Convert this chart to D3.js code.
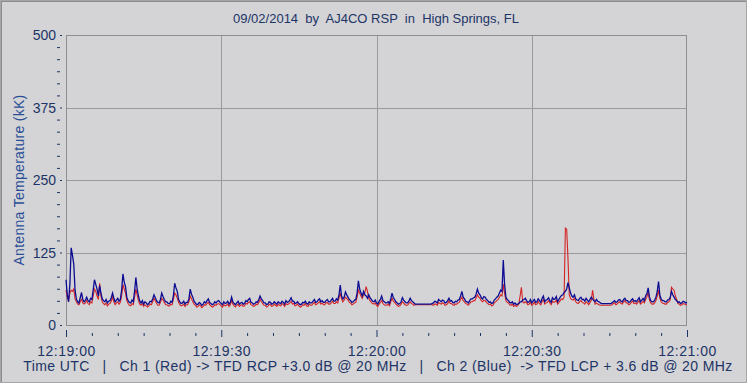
<!DOCTYPE html>
<html><head><meta charset="utf-8">
<script src="https://cdn.jsdelivr.net/npm/d3@7"></script>
<style>
html,body{margin:0;padding:0;background:#d4d3d6;}
svg{display:block;}
text{font-family:"Liberation Sans",Arial,sans-serif;}
</style></head>
<body>
<svg id="c" width="747" height="383"></svg>
<script>
// ---- data ----
const titleText = "09/02/2014  by  AJ4CO RSP  in  High Springs, FL";
const xAxisTitle = "Time UTC   |   Ch 1 (Red) -> TFD RCP +3.0 dB @ 20 MHz   |   Ch 2 (Blue)  -> TFD LCP + 3.6 dB @ 20 MHz";
const yAxisTitle = "Antenna Temperature (kK)";
const yTicks = [0, 125, 250, 375, 500];
const xTickLabels = ["12:19:00", "12:19:30", "12:20:00", "12:20:30", "12:21:00"];
const startSec = 0, stepSec = 0.25;   // seconds after 12:19:00
// Ch 2 (Blue) values, every 0.25 s (one row = 5 s)
const blue = [
78,52,40,70,133,120,105,60,45,40,38,47,56,44,40,43,48,42,40,46,
44,60,78,70,62,50,68,55,45,42,40,44,38,41,42,47,55,46,40,43,
46,41,44,60,88,74,66,48,42,39,38,43,40,58,82,62,50,41,38,42,
36,40,38,35,37,41,40,45,52,47,42,39,38,44,55,49,44,40,40,37,
37,41,39,50,72,64,58,44,40,37,38,41,36,39,39,45,62,53,48,41,
38,35,36,39,37,34,36,40,38,42,45,39,37,35,36,40,38,41,42,39,
37,35,40,37,38,41,36,39,48,40,37,35,38,41,36,38,39,36,37,42,
40,44,46,39,38,36,37,40,39,44,50,45,42,38,38,35,36,40,39,36,
37,40,38,36,40,38,37,41,39,36,42,39,40,43,47,41,41,37,38,40,
37,35,36,39,38,41,37,36,40,38,38,41,44,39,40,43,45,40,42,39,
39,42,44,40,40,43,46,41,41,45,43,52,69,50,45,48,57,52,48,44,
42,39,40,43,44,55,76,62,55,50,58,52,50,46,52,47,44,41,40,43,
38,36,41,44,50,42,40,38,38,40,37,45,55,47,44,40,38,36,37,40,
47,43,40,38,38,41,46,42,40,38,36,36,36,36,36,36,36,36,36,36,
36,36,36,37,38,41,40,38,44,42,40,43,42,38,39,42,46,41,42,39,
38,41,40,43,44,50,58,48,45,41,40,38,42,45,45,47,48,53,62,55,
52,47,45,49,48,44,42,39,40,37,38,43,45,48,50,55,60,58,112,70,
48,44,42,39,38,40,36,38,35,36,37,40,40,43,44,46,42,39,40,44,
38,41,44,39,40,45,42,39,46,50,40,43,44,47,42,39,47,44,45,49,
40,44,48,51,52,56,58,62,73,64,55,50,48,52,45,43,42,46,48,44,
44,41,46,43,40,44,48,45,42,40,44,41,40,38,37,37,37,37,37,37,
37,37,38,40,42,39,40,43,44,41,40,44,46,42,42,39,40,43,45,41,
42,40,44,47,40,43,46,42,50,54,64,48,42,40,40,43,48,58,75,52,
45,42,42,40,40,43,44,47,58,52,48,44,42,39,40,37,38,41,40,38,
39
];
// Ch 1 (Red) values, every 0.25 s (one row = 5 s)
const red = [
60,48,42,55,60,58,62,45,40,36,35,40,44,38,36,38,42,37,35,40,
38,50,62,58,50,44,72,50,40,37,35,38,33,36,37,41,48,40,35,38,
40,36,39,50,70,62,55,42,37,34,33,37,35,48,62,52,42,36,34,37,
32,35,33,31,33,36,35,40,46,42,37,34,34,39,46,43,39,35,35,33,
33,36,35,44,55,52,46,39,35,33,34,36,32,35,35,40,50,45,40,36,
34,31,32,35,33,30,32,35,34,37,39,35,33,31,32,35,34,36,37,35,
33,31,35,33,34,36,32,35,42,36,33,31,34,36,32,34,35,32,33,37,
36,39,40,35,34,32,33,36,35,39,44,40,37,34,34,31,32,36,35,32,
33,36,34,32,36,34,33,37,35,32,37,35,36,38,41,36,37,33,34,36,
33,31,32,35,34,37,33,32,36,34,34,37,39,35,36,38,40,36,38,35,
35,38,39,36,36,38,41,37,37,40,38,46,55,45,40,43,48,46,43,39,
38,35,36,38,39,48,60,55,50,46,52,56,66,58,46,42,39,37,36,38,
34,32,36,39,42,37,35,34,34,36,33,40,46,41,39,36,34,32,33,36,
40,38,35,34,34,37,40,37,36,34,35,35,35,35,35,35,35,35,35,35,
35,35,35,35,34,36,36,34,39,37,36,38,37,34,35,37,41,37,37,35,
34,36,36,38,39,44,48,42,40,37,36,34,37,40,40,42,42,47,52,48,
46,42,40,43,42,39,37,35,36,33,34,38,40,42,44,48,52,50,70,55,
42,39,38,35,34,36,32,34,32,33,36,50,65,40,38,40,38,35,36,39,
34,36,39,35,36,40,37,35,41,44,36,38,39,42,38,35,41,39,40,43,
36,39,42,45,44,48,167,165,115,52,46,44,43,46,40,38,37,40,42,39,
38,36,40,38,35,39,42,60,45,36,38,36,35,34,34,34,34,34,34,34,
34,34,35,37,38,35,36,39,40,37,36,40,42,38,38,35,36,39,41,37,
38,36,39,42,36,38,41,38,44,48,56,43,38,36,36,38,42,50,60,46,
40,38,37,36,36,39,40,43,65,62,60,50,44,37,36,34,35,37,36,35,
35
];

// ---- layout ----
const W = 747, H = 383;
const M = {left: 66, right: 687, top: 35, bottom: 325};
const svg = d3.select("#c");
const navy = "#1c3566";

// outer frame
svg.append("rect").attr("x",0.5).attr("y",0.5).attr("width",W-1).attr("height",H-1)
  .attr("fill","#d4d3d6").attr("stroke","#a6a6a8");
svg.append("line").attr("x1",1.5).attr("x2",1.5).attr("y1",1).attr("y2",H-1).attr("stroke","#8c8c90");
svg.append("line").attr("x1",1).attr("x2",W-1).attr("y1",1.5).attr("y2",1.5).attr("stroke","#8c8c90");

const t0 = new Date(Date.UTC(2014, 8, 2, 12, 19, 0));
const tEnd = new Date(Date.UTC(2014, 8, 2, 12, 21, 0));
const x = d3.scaleUtc().domain([t0, tEnd]).range([M.left, M.right]);
const y = d3.scaleLinear().domain([0, 500]).range([M.bottom, M.top]);
const timeOf = i => new Date(t0.getTime() + (startSec + i*stepSec)*1000);

// grid
const majorX = d3.range(xTickLabels.length).map(i => new Date(t0.getTime() + i*30000));
const g = svg.append("g");
g.selectAll("line.gx").data(majorX.slice(1,-1)).join("line")
  .attr("x1",d=>Math.round(x(d))+0.5).attr("x2",d=>Math.round(x(d))+0.5)
  .attr("y1",M.top).attr("y2",M.bottom).attr("stroke","#9a9a9e");
g.selectAll("line.gy").data(yTicks.slice(1,-1)).join("line")
  .attr("x1",M.left).attr("x2",M.right)
  .attr("y1",d=>Math.round(y(d))+0.5).attr("y2",d=>Math.round(y(d))+0.5).attr("stroke","#9a9a9e");
svg.append("rect").attr("x",M.left+0.5).attr("y",M.top+0.5)
  .attr("width",M.right-M.left-1).attr("height",M.bottom-M.top)
  .attr("fill","none").attr("stroke","#8e8e92");

// series
const line = d3.line().x((d,i)=>x(timeOf(i))).y(d=>y(d));
svg.append("path").datum(red).attr("d",line).attr("fill","none")
  .attr("stroke","#d42424").attr("stroke-width",1.1);
svg.append("path").datum(blue).attr("d",line).attr("fill","none")
  .attr("stroke","#0c0c92").attr("stroke-width",1.3);

// y axis ticks & labels
const yAxis = d3.axisLeft(y).tickValues(yTicks).tickSize(2).tickPadding(4).tickFormat(d3.format("d"));
const ya = svg.append("g").attr("transform",`translate(${M.left-4},0)`).call(yAxis);
ya.select(".domain").remove();
ya.selectAll("text").attr("fill",navy).attr("font-size","14px").attr("dy","0.35em");
ya.selectAll("line").attr("stroke",navy);
const minorY = d3.range(0, 500, 125/6).filter(v => Math.abs(v % 125) > 1 && Math.abs(v%125 - 125) > 1);
const yMinor = d3.axisLeft(y).tickValues(minorY).tickSize(3).tickFormat("");
const ym = svg.append("g").attr("transform",`translate(${M.left-6},0)`).call(yMinor);
ym.select(".domain").remove();
ym.selectAll("line").attr("stroke",navy);

// x axis ticks & labels
const xAxis = d3.axisBottom(x).tickValues(majorX).tickSize(7).tickPadding(9)
  .tickFormat((d,i)=>xTickLabels[i]);
const xa = svg.append("g").attr("transform",`translate(0,${M.bottom+5})`).call(xAxis);
xa.select(".domain").remove();
xa.selectAll("line").attr("stroke",navy);
xa.selectAll("text").attr("fill",navy).attr("font-size","14px").attr("letter-spacing","0.5px");
const minorX = d3.range(0, 121, 5).filter(s => s % 30 !== 0).map(s => new Date(t0.getTime()+s*1000));
const xMinor = d3.axisBottom(x).tickValues(minorX).tickSize(3).tickFormat("");
const xm = svg.append("g").attr("transform",`translate(0,${M.bottom+8})`).call(xMinor);
xm.select(".domain").remove();
xm.selectAll("line").attr("stroke",navy);

// titles
svg.append("text").attr("x",376).attr("y",23).attr("text-anchor","middle")
  .attr("fill",navy).attr("font-size","13px").style("white-space","pre").text(titleText);
svg.append("text").attr("x",378).attr("y",371).attr("text-anchor","middle")
  .attr("fill",navy).attr("font-size","14px").attr("letter-spacing","0.4px").style("white-space","pre").text(xAxisTitle);
svg.append("text").attr("transform","translate(24,180) rotate(-90)").attr("text-anchor","middle")
  .attr("fill","#2a4f96").attr("font-size","14px").attr("letter-spacing","0.3px").text(yAxisTitle);
</script>
</body></html>
